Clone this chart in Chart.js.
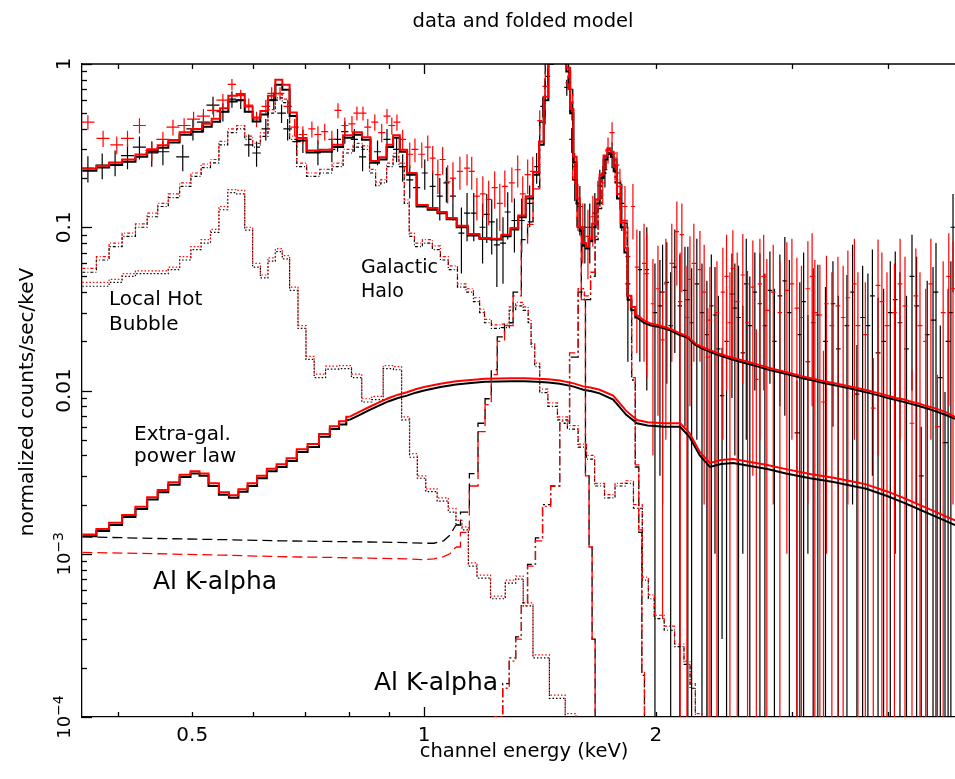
<!DOCTYPE html>
<html>
<head>
<meta charset="utf-8">
<title>data and folded model</title>
<script src="https://cdn.jsdelivr.net/npm/chart.js@4.4.1/dist/chart.umd.min.js"></script>
<style>
  html, body { margin: 0; padding: 0; background: #fff; }
  canvas { display: block; }
</style>
</head>
<body>
<canvas id="spectrum" width="955" height="779"></canvas>
<script>
// --- Black spectrum: energy (keV), rate, 1-sigma error, half bin width ---
const bE = [0.366,0.382,0.397,0.412,0.427,0.443,0.458,0.486,0.501,0.517,
  0.532,0.548,0.563,0.578,0.592,0.606,0.623,0.638,0.653,0.665,
  0.683,0.696,0.728,0.759,0.772,0.789,0.812,0.832,0.870,0.895,
  0.921,0.938,0.958,0.978,1.002,1.026,1.048,1.069,1.090,1.118,
  1.137,1.160,1.191,1.206,1.224,1.243,1.266,1.284,1.310,1.339,
  1.371,1.400,1.426,1.447,1.468,1.490,1.510,1.532,1.555,1.569,
  1.593,1.617,1.641,1.666,1.691,1.717,1.754,1.780,1.806,1.839,
  1.906,1.946,1.994,2.024,2.066,2.116,2.148,2.181,2.200,2.225,
  2.295,2.329,2.386,2.437,2.470,2.510,2.532,2.593,2.648,2.688,
  2.729,2.770,2.812,2.897,2.980,3.048,3.075,3.150,3.245,3.320,
  3.395,3.540,3.647,3.769,3.885,4.030,4.148,4.300,4.420,4.579,
  4.680,4.746,4.790,4.861,
  2.04,2.09,2.26,2.36,2.41,2.56,2.62,2.85,2.94,3.11,
  3.20,3.45,3.60,3.71,3.82,3.95,4.09,4.23,4.36,4.50,
  4.62,4.83];
const bV = [0.23,0.24,0.25,0.275,0.31,0.285,0.29,0.27,0.40,0.44,
  0.56,0.51,0.61,0.60,0.32,0.285,0.40,0.60,0.50,0.40,
  0.335,0.34,0.29,0.30,0.345,0.385,0.345,0.27,0.29,0.345,
  0.30,0.235,0.195,0.175,0.215,0.178,0.155,0.187,0.155,0.092,
  0.122,0.122,0.10,0.12,0.108,0.078,0.08,0.124,0.11,0.11,
  0.14,0.235,0.55,0.84,1.2,1.4,1.3,0.72,0.345,0.195,
  0.134,0.10,0.10,0.122,0.18,0.225,0.28,0.215,0.14,0.045,
  0.055,0.055,0.030,0.033,0.046,0.057,0.033,0.041,0.036,0.026,
  0.030,0.022,0.029,0.0093,0.020,0.039,0.032,0.017,0.025,0.040,
  0.034,0.025,0.041,0.038,0.030,0.0055,0.022,0.015,0.029,0.020,
  0.034,0.025,0.0095,0.025,0.017,0.030,0.026,0.050,0.003,0.027,
  0.012,0.0048,0.020,0.10,
  0.040,0.025,0.045,0.033,0.018,0.028,0.045,0.020,0.047,0.035,
  0.026,0.018,0.040,0.028,0.038,0.020,0.036,0.018,0.033,0.022,
  0.040,0.030];
const bErr = [0.042,0.043,0.045,0.048,0.05,0.05,0.05,0.05,0.06,0.06,
  0.07,0.065,0.07,0.07,0.05,0.05,0.06,0.07,0.065,0.06,
  0.055,0.055,0.05,0.05,0.055,0.06,0.055,0.05,0.05,0.055,
  0.05,0.045,0.045,0.04,0.045,0.045,0.045,0.045,0.045,0.04,
  0.04,0.04,0.04,0.04,0.04,0.035,0.035,0.04,0.04,0.04,
  0.04,0.05,0.08,0.1,0.1,0.1,0.1,0.08,0.06,0.05,
  0.045,0.04,0.04,0.04,0.045,0.05,0.05,0.05,0.045,0.03,
  0.04,0.045,0.03,0.03,0.035,0.04,0.035,0.035,0.04,0.03,
  0.03,0.025,0.028,0.009,0.022,0.03,0.028,0.016,0.025,0.03,
  0.035,0.027,0.03,0.03,0.033,0.006,0.024,0.014,0.03,0.023,
  0.028,0.026,0.0095,0.027,0.02,0.032,0.027,0.04,0.003,0.03,
  0.013,0.005,0.022,0.06,
  0.038,0.028,0.04,0.035,0.02,0.03,0.04,0.022,0.04,0.035,
  0.03,0.02,0.038,0.03,0.035,0.022,0.035,0.02,0.033,0.025,
  0.04,0.032];
const bDE = [0.0072,0.0075,0.0077,0.008,0.0083,0.0086,0.0089,0.0094,0.0097,0.01,
  0.0103,0.0106,0.0072,0.0074,0.0076,0.0078,0.008,0.0082,0.0084,0.0085,
  0.0087,0.0089,0.0077,0.008,0.0082,0.0084,0.0086,0.0088,0.0092,0.0095,
  0.0097,0.0099,0.01,0.0103,0.009,0.0092,0.0094,0.0096,0.0098,0.01,
  0.0102,0.0104,0.0107,0.0108,0.011,0.0112,0.0114,0.0115,0.0118,0.012,
  0.0123,0.0105,0.0107,0.0108,0.011,0.0112,0.0113,0.0115,0.0117,0.0118,
  0.012,0.0121,0.0123,0.0125,0.0127,0.0129,0.0132,0.0134,0.0135,0.0138,
  0.012,0.012,0.013,0.013,0.014,0.014,0.014,0.014,0.014,0.015,
  0.015,0.015,0.016,0.016,0.016,0.017,0.017,0.017,0.018,0.018,
  0.018,0.019,0.019,0.02,0.02,0.021,0.021,0.022,0.022,0.023,
  0.024,0.025,0.026,0.027,0.028,0.029,0.03,0.031,0.032,0.033,
  0.034,0.035,0.035,0.036,
  0.013,0.014,0.015,0.015,0.016,0.017,0.018,0.019,0.02,0.021,
  0.022,0.024,0.025,0.026,0.027,0.028,0.029,0.03,0.031,0.032,
  0.033,0.035];

// --- Red spectrum ---
const rE = [0.366,0.383,0.399,0.412,0.427,0.443,0.458,0.472,0.488,0.502,
  0.517,0.533,0.548,0.563,0.578,0.592,0.606,0.623,0.634,0.650,
  0.665,0.679,0.696,0.715,0.728,0.743,0.759,0.773,0.789,0.806,
  0.818,0.833,0.845,0.863,0.881,0.895,0.908,0.922,0.938,0.958,
  0.973,0.993,1.011,1.026,1.042,1.057,1.073,1.090,1.113,1.137,
  1.153,1.171,1.192,1.213,1.235,1.254,1.273,1.300,1.323,1.343,
  1.363,1.384,1.413,1.435,1.456,1.483,1.510,1.537,1.555,1.569,
  1.584,1.607,1.632,1.656,1.681,1.706,1.733,1.754,1.780,1.796,
  1.823,1.839,1.867,1.889,1.946,1.982,2.012,2.040,2.097,2.129,
  2.161,2.194,2.214,2.281,2.336,2.350,2.443,2.495,2.517,2.593,
  2.672,2.700,2.729,2.786,2.897,2.958,3.003,3.048,3.150,3.216,
  3.265,3.300,3.384,3.446,3.550,3.658,3.830,3.885,3.990,4.211,
  4.300,4.404,4.640,4.861,
  1.93,2.06,2.15,2.24,2.31,2.40,2.47,2.55,2.63,2.76,
  2.84,3.09,3.19,3.33,3.50,3.62,3.74,3.93,4.08,4.15,
  4.35,4.48,4.55,4.72,4.80];
const rV = [0.44,0.35,0.32,0.35,0.42,0.295,0.345,0.41,0.42,0.46,
  0.48,0.52,0.60,0.75,0.64,0.56,0.46,0.55,0.66,0.66,
  0.55,0.41,0.37,0.40,0.37,0.385,0.345,0.52,0.42,0.43,
  0.50,0.50,0.41,0.44,0.38,0.48,0.42,0.44,0.345,0.28,
  0.30,0.28,0.31,0.265,0.21,0.26,0.19,0.20,0.22,0.23,
  0.22,0.155,0.16,0.148,0.175,0.14,0.178,0.187,0.225,0.16,
  0.21,0.22,0.45,0.73,1.1,1.5,1.4,0.77,0.52,0.235,
  0.14,0.10,0.088,0.116,0.148,0.187,0.30,0.38,0.24,0.178,
  0.134,0.066,0.134,0.057,0.052,0.034,0.042,0.0204,0.06,0.094,
  0.09,0.028,0.048,0.055,0.016,0.027,0.04,0.026,0.056,0.051,
  0.043,0.0117,0.045,0.031,0.030,0.041,0.045,0.032,0.042,0.030,
  0.029,0.0085,0.025,0.033,0.037,0.025,0.0078,0.044,0.025,0.033,
  0.0063,0.025,0.006,0.042,
  0.06,0.045,0.035,0.06,0.04,0.03,0.05,0.035,0.026,0.05,
  0.04,0.028,0.05,0.034,0.028,0.045,0.022,0.035,0.03,0.045,
  0.038,0.02,0.045,0.03,0.05];
const rErr = [0.045,0.04,0.04,0.04,0.045,0.04,0.04,0.045,0.045,0.05,
  0.05,0.05,0.055,0.06,0.055,0.055,0.05,0.055,0.06,0.06,
  0.055,0.05,0.045,0.045,0.045,0.045,0.045,0.055,0.05,0.05,
  0.05,0.05,0.05,0.05,0.05,0.05,0.05,0.05,0.05,0.05,
  0.05,0.05,0.055,0.05,0.05,0.05,0.05,0.05,0.05,0.05,
  0.05,0.045,0.045,0.045,0.045,0.045,0.045,0.045,0.05,0.045,
  0.05,0.05,0.07,0.09,0.1,0.12,0.12,0.08,0.07,0.05,
  0.045,0.04,0.04,0.04,0.045,0.05,0.055,0.06,0.05,0.05,
  0.045,0.035,0.05,0.04,0.04,0.03,0.035,0.02,0.045,0.05,
  0.05,0.03,0.04,0.04,0.016,0.03,0.035,0.027,0.04,0.04,
  0.04,0.012,0.04,0.033,0.032,0.04,0.04,0.033,0.04,0.033,
  0.03,0.009,0.028,0.033,0.035,0.028,0.008,0.04,0.028,0.033,
  0.007,0.028,0.0065,0.04,
  0.045,0.04,0.035,0.045,0.038,0.032,0.04,0.035,0.028,0.04,
  0.038,0.03,0.042,0.033,0.03,0.04,0.024,0.035,0.03,0.04,
  0.036,0.022,0.04,0.032,0.042];
const rDE = [0.0072,0.0075,0.0077,0.008,0.0083,0.0086,0.0089,0.0092,0.0095,0.0097,
  0.01,0.0103,0.0106,0.0072,0.0074,0.0076,0.0078,0.008,0.0081,0.0083,
  0.0085,0.0087,0.0089,0.0076,0.0077,0.0078,0.008,0.0082,0.0084,0.0085,
  0.0086,0.0088,0.0089,0.0091,0.0093,0.0095,0.0096,0.0097,0.0099,0.01,
  0.0102,0.0104,0.0091,0.0092,0.0094,0.0095,0.0096,0.0098,0.01,0.0102,
  0.0104,0.0105,0.0107,0.0109,0.0111,0.0113,0.0114,0.0117,0.0119,0.0121,
  0.0123,0.0124,0.0106,0.0108,0.0109,0.0111,0.0113,0.0115,0.0117,0.0118,
  0.0119,0.012,0.0122,0.0124,0.0126,0.0128,0.013,0.0132,0.0134,0.0135,
  0.0137,0.0138,0.012,0.012,0.012,0.013,0.013,0.013,0.014,0.014,
  0.014,0.014,0.015,0.015,0.015,0.016,0.016,0.017,0.017,0.017,
  0.018,0.018,0.018,0.019,0.02,0.02,0.021,0.021,0.022,0.022,
  0.023,0.023,0.024,0.024,0.025,0.026,0.027,0.028,0.029,0.03,
  0.031,0.032,0.034,0.036,
  0.012,0.013,0.014,0.015,0.015,0.016,0.016,0.017,0.018,0.019,
  0.019,0.021,0.022,0.023,0.024,0.025,0.026,0.028,0.029,0.03,
  0.031,0.032,0.033,0.034,0.035];

// --- Total folded model ---
const modelE = [0.36,0.368,0.383,0.397,0.414,0.430,0.444,0.458,0.473,0.490,0.507,
  0.523,0.537,0.550,0.564,0.578,0.592,0.606,0.620,0.634,0.648,
  0.661,0.677,0.690,0.718,0.746,0.773,0.797,0.820,0.841,0.863,
  0.885,0.903,0.920,0.940,0.961,0.995,1.027,1.055,1.085,1.12,
  1.16,1.20,1.24,1.28,1.31,1.34,1.37,1.40,1.42,1.44,
  1.46,1.48,1.50,1.52,1.54,1.555,1.57,1.585,1.60,1.615,
  1.63,1.645,1.66,1.68,1.70,1.72,1.74,1.755,1.77,1.79,
  1.81,1.83,1.845,1.87,1.89,1.93,1.97,2.02,2.08,2.14,
  2.20,2.25,2.30,2.40,2.50,2.60,2.70,2.80,2.90,3.00,
  3.10,3.20,3.30,3.40,3.50,3.60,3.70,3.80,3.90,4.00,
  4.10,4.20,4.30,4.40,4.50,4.60,4.75,4.89];
const modelBlack = [0.222,0.222,0.232,0.241,0.252,0.270,0.290,0.307,0.330,0.369,0.385,
  0.413,0.443,0.510,0.590,0.600,0.510,0.445,0.490,0.600,0.746,
  0.695,0.480,0.340,0.287,0.290,0.310,0.354,0.369,0.344,0.248,
  0.260,0.310,0.354,0.290,0.210,0.134,0.128,0.122,0.112,0.100,
  0.089,0.085,0.084,0.088,0.097,0.115,0.150,0.210,0.320,0.600,
  1.00,1.40,1.50,1.30,0.90,0.50,0.25,0.14,0.095,0.077,
  0.074,0.082,0.100,0.140,0.200,0.260,0.285,0.270,0.220,0.150,
  0.100,0.070,0.036,0.031,0.028,0.026,0.025,0.0245,0.0235,0.022,
  0.021,0.019,0.018,0.0166,0.0156,0.0148,0.0141,0.0134,0.0129,0.0124,
  0.0119,0.0115,0.0111,0.0108,0.0105,0.0102,0.0099,0.0096,0.0093,0.0090,
  0.00875,0.0085,0.00825,0.0080,0.00775,0.0075,0.0071,0.0067];
const modelRed = [0.228,0.228,0.238,0.248,0.260,0.279,0.300,0.318,0.342,0.382,0.400,
  0.430,0.462,0.535,0.640,0.655,0.550,0.470,0.515,0.640,0.800,
  0.745,0.505,0.352,0.295,0.298,0.320,0.366,0.382,0.356,0.255,
  0.268,0.320,0.366,0.298,0.215,0.137,0.131,0.124,0.114,0.102,
  0.091,0.086,0.085,0.090,0.099,0.118,0.155,0.218,0.335,0.630,
  1.05,1.45,1.55,1.35,0.95,0.53,0.27,0.15,0.100,0.080,
  0.076,0.085,0.105,0.148,0.210,0.275,0.305,0.290,0.235,0.160,
  0.107,0.075,0.038,0.0325,0.029,0.0268,0.0257,0.025,0.024,0.0226,
  0.0214,0.0194,0.0184,0.0170,0.0160,0.0152,0.0145,0.0138,0.0132,0.0127,
  0.0122,0.0118,0.0114,0.0111,0.0108,0.0105,0.0102,0.0099,0.0096,0.0093,
  0.0090,0.0088,0.0085,0.0083,0.0080,0.0078,0.0074,0.0069];

// --- Extra-galactic power law ---
const powE = [0.36,0.368,0.383,0.397,0.414,0.430,0.444,0.458,0.473,0.490,0.505,
  0.517,0.533,0.550,0.566,0.582,0.598,0.616,0.634,0.653,0.673,
  0.694,0.718,0.743,0.766,0.785,0.80,0.825,0.85,0.875,0.90,
  0.925,0.95,0.975,1.00,1.05,1.10,1.15,1.20,1.25,1.30,
  1.35,1.40,1.45,1.50,1.56,1.61,1.65,1.69,1.76,1.83,
  1.89,1.95,2.05,2.15,2.21,2.28,2.35,2.43,2.52,2.65,
  2.79,2.95,3.17,3.40,3.60,3.75,4.00,4.20,4.36,4.60,
  4.89];
const powBlack = [1.28e-3,1.28e-3,1.38e-3,1.50e-3,1.68e-3,1.88e-3,2.15e-3,2.38e-3,2.65e-3,2.95e-3,3.10e-3,
  3.00e-3,2.60e-3,2.30e-3,2.20e-3,2.40e-3,2.60e-3,2.90e-3,3.20e-3,3.40e-3,3.70e-3,
  4.20e-3,4.50e-3,5.20e-3,5.80e-3,6.20e-3,6.60e-3,7.10e-3,7.60e-3,8.10e-3,8.60e-3,
  9.00e-3,9.30e-3,9.70e-3,1.00e-2,1.05e-2,1.09e-2,1.11e-2,1.13e-2,1.135e-2,1.14e-2,
  1.14e-2,1.13e-2,1.12e-2,1.10e-2,1.06e-2,1.01e-2,9.9e-3,9.6e-3,8.8e-3,7.1e-3,
  6.3e-3,6.1e-3,6.0e-3,6.0e-3,5.2e-3,4.0e-3,3.4e-3,3.55e-3,3.6e-3,3.45e-3,
  3.3e-3,3.1e-3,2.9e-3,2.75e-3,2.6e-3,2.5e-3,2.25e-3,2.05e-3,1.9e-3,1.7e-3,
  1.5e-3];
const powRed = [1.31e-3,1.31e-3,1.42e-3,1.55e-3,1.73e-3,1.94e-3,2.22e-3,2.46e-3,2.74e-3,3.05e-3,3.20e-3,
  3.10e-3,2.70e-3,2.38e-3,2.28e-3,2.48e-3,2.70e-3,3.00e-3,3.32e-3,3.53e-3,3.85e-3,
  4.37e-3,4.70e-3,5.42e-3,6.05e-3,6.47e-3,6.90e-3,7.42e-3,7.95e-3,8.48e-3,9.00e-3,
  9.43e-3,9.75e-3,1.017e-2,1.05e-2,1.10e-2,1.14e-2,1.16e-2,1.18e-2,1.185e-2,1.19e-2,
  1.19e-2,1.18e-2,1.17e-2,1.15e-2,1.11e-2,1.06e-2,1.04e-2,1.01e-2,9.3e-3,7.5e-3,
  6.6e-3,6.4e-3,6.3e-3,6.3e-3,5.5e-3,4.2e-3,3.6e-3,3.75e-3,3.8e-3,3.65e-3,
  3.5e-3,3.3e-3,3.08e-3,2.92e-3,2.77e-3,2.66e-3,2.4e-3,2.19e-3,2.03e-3,1.82e-3,
  1.6e-3];

// --- Galactic halo ---
const haloE = [0.36,0.368,0.383,0.397,0.414,0.430,0.444,0.458,0.473,0.490,0.506,
  0.521,0.535,0.548,0.564,0.578,0.592,0.606,0.620,0.634,0.648,
  0.661,0.677,0.690,0.718,0.746,0.773,0.797,0.820,0.841,0.858,
  0.872,0.885,0.903,0.920,0.935,0.950,0.963,0.98,1.01,1.04,
  1.06,1.09,1.12,1.147,1.171,1.19,1.206,1.24,1.28,1.30,
  1.33,1.36,1.37,1.384,1.40,1.426,1.47,1.51,1.56,1.61,
  1.64,1.69,1.74,1.80,1.85,1.89,1.95,1.96,2.02,2.08,
  2.15,2.20,2.23,2.27,2.32];
const haloBlack = [0.053,0.053,0.063,0.076,0.088,0.100,0.116,0.134,0.152,0.178,0.205,
  0.232,0.248,0.320,0.380,0.400,0.345,0.310,0.360,0.500,0.620,
  0.580,0.345,0.235,0.205,0.215,0.235,0.285,0.310,0.300,0.215,
  0.180,0.187,0.235,0.270,0.235,0.140,0.088,0.076,0.080,0.073,
  0.063,0.055,0.043,0.040,0.035,0.030,0.026,0.024,0.0243,0.031,
  0.033,0.031,0.026,0.0185,0.014,0.0097,0.008,0.0066,0.0058,0.0045,
  0.0038,0.0026,0.0022,0.0026,0.0027,0.0019,6.9e-4,5.3e-4,4.0e-4,3.4e-4,
  2.7e-4,2.1e-4,1.5e-4,1.0e-4,6e-5];
const haloRed = [0.056,0.056,0.066,0.080,0.092,0.105,0.122,0.140,0.160,0.187,0.215,
  0.244,0.260,0.336,0.400,0.420,0.362,0.326,0.378,0.525,0.650,
  0.610,0.362,0.247,0.215,0.226,0.247,0.300,0.326,0.315,0.226,
  0.189,0.196,0.247,0.284,0.247,0.147,0.092,0.080,0.084,0.077,
  0.066,0.058,0.045,0.042,0.037,0.0315,0.0273,0.0252,0.0255,0.0325,
  0.0347,0.0325,0.0273,0.0194,0.0147,0.0102,0.0084,0.0069,0.0061,0.0047,
  0.0040,0.0027,0.0023,0.0027,0.0028,0.0020,7.2e-4,5.6e-4,4.2e-4,3.6e-4,
  2.8e-4,2.2e-4,1.6e-4,1.05e-4,6.3e-5];

// --- Local hot bubble ---
const lhbE = [0.36,0.368,0.383,0.397,0.414,0.430,0.444,0.458,0.473,0.490,0.506,
  0.521,0.535,0.548,0.564,0.578,0.592,0.606,0.620,0.634,0.648,
  0.661,0.677,0.695,0.710,0.730,0.760,0.790,0.820,0.840,0.870,
  0.900,0.925,0.945,0.970,0.990,1.02,1.06,1.09,1.11,1.13,
  1.153,1.19,1.25,1.30,1.33,1.36,1.41,1.50,1.55,1.60];
const lhbBlack = [0.0435,0.0435,0.0435,0.046,0.050,0.052,0.052,0.052,0.055,0.063,0.073,
  0.080,0.093,0.128,0.163,0.160,0.096,0.057,0.049,0.062,0.071,
  0.064,0.041,0.024,0.0155,0.012,0.0135,0.0136,0.012,0.0085,0.0088,
  0.0136,0.0134,0.0066,0.0039,0.0029,0.0024,0.0021,0.0018,0.0015,0.0014,
  8.4e-4,7.1e-4,5.3e-4,6.6e-4,7.0e-4,4.8e-4,2.3e-4,1.3e-4,1.0e-4,7e-5];
const lhbRed = [0.046,0.046,0.046,0.048,0.052,0.054,0.054,0.054,0.057,0.066,0.076,
  0.084,0.097,0.134,0.170,0.168,0.100,0.060,0.051,0.065,0.074,
  0.067,0.043,0.025,0.0162,0.0126,0.0141,0.0142,0.0126,0.0089,0.0092,
  0.0142,0.0140,0.0069,0.0041,0.0030,0.0025,0.0022,0.0019,0.0016,0.00146,
  8.8e-4,7.4e-4,5.5e-4,6.9e-4,7.3e-4,5.0e-4,2.4e-4,1.36e-4,1.05e-4,7.3e-5];

// --- Instrumental Al K-alpha line ---
const alE = [0.36,0.45,0.55,0.65,0.75,0.85,0.95,1.00,1.03,1.06,
  1.08,1.10,1.13,1.16,1.19,1.21,1.235,1.254,1.29,1.32,
  1.355,1.37,1.40,1.426,1.447,1.47,1.49,1.51,1.53,1.55,
  1.569,1.59,1.61,1.63,1.645,1.66,1.675];
const alBlack = [1.27e-3,1.24e-3,1.22e-3,1.20e-3,1.19e-3,1.18e-3,1.17e-3,1.16e-3,1.16e-3,1.2e-3,
  1.3e-3,1.5e-3,1.8e-3,3.1e-3,6.3e-3,8.9e-3,0.0134,0.0213,0.026,0.040,
  0.084,0.108,0.177,0.44,1.2,1.6,1.7,1.5,1.1,0.7,
  0.196,0.10,0.036,3.0e-3,1.1e-3,3.0e-4,5e-5];
const alRed = [1.02e-3,1.0e-3,9.8e-4,9.6e-4,9.5e-4,9.4e-4,9.3e-4,9.2e-4,9.3e-4,9.6e-4,
  1.0e-3,1.1e-3,1.35e-3,2.6e-3,5.6e-3,8.2e-3,0.0125,0.020,0.025,0.038,
  0.080,0.104,0.172,0.43,1.2,1.6,1.7,1.5,1.1,0.7,
  0.20,0.10,0.036,3.0e-3,1.1e-3,3.0e-4,5e-5];

// --- Instrumental Si K-alpha line ---
const siE = [1.22,1.25,1.28,1.30,1.33,1.345,1.38,1.41,1.44,1.48,
  1.52,1.57,1.60,1.63,1.66,1.675,1.69,1.71,1.735,1.76,
  1.78,1.82,1.85,1.87,1.89,1.91,1.925,1.94];
const siBlack = [6e-5,1.0e-4,1.6e-4,2.3e-4,3.1e-4,5.0e-4,8.6e-4,1.25e-3,2.0e-3,2.6e-3,
  6.3e-3,0.016,0.040,0.036,0.050,0.084,0.13,0.215,0.28,0.27,
  0.187,0.106,0.036,0.0116,3.4e-3,1.35e-3,1.8e-4,6e-5];
const siRed = [6e-5,1.0e-4,1.5e-4,2.2e-4,3.0e-4,4.8e-4,8.4e-4,1.2e-3,1.95e-3,2.6e-3,
  6.5e-3,0.017,0.042,0.038,0.053,0.088,0.135,0.225,0.295,0.285,
  0.195,0.11,0.038,0.012,3.5e-3,1.4e-3,1.9e-4,6e-5];

// --- Axis ticks ---
const xTickValues = [0.5, 1, 2];
const xTickLabels = ["0.5", "1", "2"];
const xMinorTicks = [0.4, 0.5, 0.6, 0.7, 0.8, 0.9, 2, 3, 4];
const xMajorTicks = [1];
const yMajorTicks = [1, 0.1, 0.01, 1e-3, 1e-4];
const yTickLabels = [["1"], ["0.1"], ["0.01"], ["10", "\u22123"], ["10", "\u22124"]];

// --- Sanity check on array lengths ---
[[bE, bV, bErr, bDE], [rE, rV, rErr, rDE], [modelE, modelBlack, modelRed],
 [powE, powBlack, powRed], [haloE, haloBlack, haloRed], [lhbE, lhbBlack, lhbRed],
 [alE, alBlack, alRed], [siE, siBlack, siRed]].forEach((g, k) => {
  if (g.some(a => a.length !== g[0].length)) throw new Error("length mismatch in group " + k + ": " + g.map(a => a.length));
});

const FONT = '"DejaVu Sans", "Liberation Sans", sans-serif';
const BLACK = "#000000";
const RED = "#ff0000";

// --- Helpers ---
function toPoints(es, vs) {
  return es.map((e, i) => ({ x: e, y: vs[i] }));
}
function errorBars(es, vs, errs, dEs) {
  const pts = [];
  es.forEach((e, i) => {
    const lo = vs[i] - errs[i];
    pts.push({ x: e, y: lo > 0 ? lo : 1e-7 }, { x: e, y: vs[i] + errs[i] }, { x: e, y: null });
    pts.push({ x: e - dEs[i], y: vs[i] }, { x: e + dEs[i], y: vs[i] }, { x: e + dEs[i], y: null });
  });
  return pts;
}
// histogram between stepFrom and stepTo, plain line outside that range
function model(label, es, vs, color, width, dash, order, stepFrom = 0, stepTo = Infinity) {
  const pts = toPoints(es, vs);
  let i0 = pts.findIndex(p => p.x >= stepFrom);
  let i1 = pts.length - 1;
  while (i1 > 0 && pts[i1].x > stepTo) i1--;
  const pieces = [
    { data: pts.slice(0, i0 + 1), stepped: false },
    { data: pts.slice(i0, i1 + 1), stepped: "middle" },
    { data: pts.slice(i1), stepped: false }
  ];
  return pieces.filter(p => p.data.length > 1).map(p => ({
    label, data: p.data, stepped: p.stepped, borderColor: color,
    borderWidth: width, borderDash: dash, order
  }));
}

// --- Axes, labels, notes (drawn on top) ---
const notes = [
  { text: "Local Hot", x: 109, y: 305, size: 20 },
  { text: "Bubble", x: 109, y: 330, size: 20 },
  { text: "Galactic", x: 361, y: 273, size: 19 },
  { text: "Halo", x: 361, y: 297, size: 19 },
  { text: "Extra-gal.", x: 134, y: 440, size: 20 },
  { text: "power law", x: 134, y: 462, size: 20 },
  { text: "Al K-alpha", x: 153, y: 589, size: 25 },
  { text: "Al K-alpha", x: 374, y: 690, size: 25 }
];

const xspecFrame = {
  id: "xspecFrame",
  afterDraw(chart) {
    const { ctx, chartArea: a } = chart;
    const x = chart.scales.x, y = chart.scales.y;
    ctx.save();
    ctx.strokeStyle = BLACK;
    ctx.lineWidth = 1.3;

    // top frame line
    ctx.beginPath();
    ctx.moveTo(a.left, a.top);
    ctx.lineTo(a.right, a.top);
    ctx.stroke();

    // x ticks, top and bottom, pointing inward
    const xt = (v, len) => {
      const px = Math.round(x.getPixelForValue(v)) + 0.5;
      ctx.beginPath();
      ctx.moveTo(px, a.bottom); ctx.lineTo(px, a.bottom - len);
      ctx.moveTo(px, a.top); ctx.lineTo(px, a.top + len);
      ctx.stroke();
    };
    xMinorTicks.forEach(v => xt(v, 5));
    xMajorTicks.forEach(v => xt(v, 10));

    // y ticks on the left
    const yt = (v, len) => {
      const py = Math.round(y.getPixelForValue(v)) + 0.5;
      ctx.beginPath();
      ctx.moveTo(a.left, py); ctx.lineTo(a.left + len, py);
      ctx.stroke();
    };
    yMajorTicks.forEach(v => yt(v, 10));
    for (let d = 1e-4; d < 0.5; d *= 10) {
      for (let m = 2; m <= 9; m++) yt(d * m, 5);
    }

    ctx.fillStyle = BLACK;
    ctx.textBaseline = "alphabetic";

    // x tick labels
    ctx.font = "20px " + FONT;
    ctx.textAlign = "center";
    xTickValues.forEach((v, i) => ctx.fillText(xTickLabels[i], x.getPixelForValue(v), 741));

    // y tick labels, rotated
    yMajorTicks.forEach((v, i) => {
      const [base, exp] = yTickLabels[i];
      ctx.save();
      ctx.translate(70, y.getPixelForValue(v));
      ctx.rotate(-Math.PI / 2);
      ctx.textAlign = "left";
      ctx.font = (exp ? "18px " : "20px ") + FONT;
      const wb = ctx.measureText(base).width;
      let we = 0;
      if (exp) { ctx.font = "14px " + FONT; we = ctx.measureText(exp).width; }
      const start = -(wb + we) / 2;
      ctx.font = (exp ? "18px " : "20px ") + FONT;
      ctx.fillText(base, start, 0);
      if (exp) { ctx.font = "14px " + FONT; ctx.fillText(exp, start + wb, -7); }
      ctx.restore();
    });

    // title and axis titles
    ctx.textAlign = "center";
    ctx.font = "19.5px " + FONT;
    ctx.fillText("data and folded model", 523, 27);
    ctx.fillText("channel energy (keV)", 524, 757);
    ctx.save();
    ctx.translate(33, 402);
    ctx.rotate(-Math.PI / 2);
    ctx.font = "20px " + FONT;
    ctx.fillText("normalized counts/sec/keV", 0, 0);
    ctx.restore();

    // component notes
    ctx.textAlign = "left";
    notes.forEach(n => {
      ctx.font = n.size + "px " + FONT;
      ctx.fillText(n.text, n.x, n.y);
    });
    ctx.restore();
  }
};

// --- Build chart ---
const datasets = [
  { label: "black data", data: errorBars(bE, bV, bErr, bDE), borderColor: BLACK, borderWidth: 1.2, order: 10 },
  { label: "red data", data: errorBars(rE, rV, rErr, rDE), borderColor: RED, borderWidth: 1.2, order: 9 },
  ...model("halo black", haloE, haloBlack, BLACK, 1.2, [3, 2, 1, 2], 8),
  ...model("lhb black", lhbE, lhbBlack, BLACK, 1.2, [1.5, 2], 8),
  ...model("al black", alE, alBlack, BLACK, 1.3, [10, 5], 8, 1.10),
  ...model("si black", siE, siBlack, BLACK, 1.3, [9, 3, 2, 3], 8),
  ...model("pow black", powE, powBlack, BLACK, 2, [], 7, 0, 0.80),
  ...model("halo red", haloE, haloRed, RED, 1.2, [3, 2, 1, 2], 6),
  ...model("lhb red", lhbE, lhbRed, RED, 1.2, [1.5, 2], 6),
  ...model("al red", alE, alRed, RED, 1.3, [10, 5], 6, 1.10),
  ...model("si red", siE, siRed, RED, 1.3, [9, 3, 2, 3], 6),
  ...model("pow red", powE, powRed, RED, 2, [], 5, 0, 0.80),
  ...model("model black", modelE, modelBlack, BLACK, 2, [], 4, 0, 1.90),
  ...model("model red", modelE, modelRed, RED, 2, [], 3, 0, 1.90)
];

new Chart(document.getElementById("spectrum"), {
  type: "line",
  data: { datasets },
  options: {
    responsive: false,
    animation: false,
    devicePixelRatio: 1,
    layout: { padding: { top: 64, left: 0, right: 0, bottom: 0 } },
    datasets: { line: { clip: 0, pointRadius: 0, spanGaps: false, fill: false, tension: 0 } },
    plugins: { legend: { display: false }, tooltip: { enabled: false }, title: { display: false } },
    scales: {
      x: {
        type: "logarithmic", min: 0.3596, max: 4.89,
        grid: { display: false }, ticks: { display: false },
        border: { display: true, color: BLACK, width: 1.3 },
        afterFit: s => { s.height = 62; }
      },
      y: {
        type: "logarithmic", min: 1e-4, max: 1,
        grid: { display: false }, ticks: { display: false },
        border: { display: true, color: BLACK, width: 1.3 },
        afterFit: s => { s.width = 82; }
      }
    }
  },
  plugins: [xspecFrame]
});
</script>
</body>
</html>
